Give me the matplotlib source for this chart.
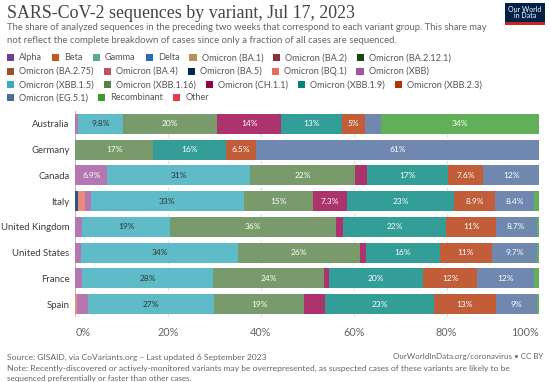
import matplotlib
matplotlib.use('Agg')
import matplotlib.pyplot as plt
from matplotlib.patches import Rectangle
from matplotlib.colors import to_rgb

W, H = 550, 382
DPI = 100

title = "SARS-CoV-2 sequences by variant, Jul 17, 2023"
subtitle = ["The share of analyzed sequences in the preceding two weeks that correspond to each variant group. This share may",
            "not reflect the complete breakdown of cases since only a fraction of all cases are sequenced."]
source = "Source: GISAID, via CoVariants.org – Last updated 6 September 2023"
url = "OurWorldInData.org/coronavirus • CC BY"
note = ["Note: Recently-discovered or actively-monitored variants may be overrepresented, as suspected cases of these variants are likely to be",
        "sequenced preferentially or faster than other cases."]

countries = ["Australia", "Germany", "Canada", "Italy", "United Kingdom", "United States", "France", "Spain"]

variants = ["Alpha", "Beta", "Gamma", "Delta", "Omicron (BA.1)", "Omicron (BA.2)", "Omicron (BA.2.12.1)",
            "Omicron (BA.2.75)", "Omicron (BA.4)", "Omicron (BA.5)", "Omicron (BQ.1)", "Omicron (XBB)",
            "Omicron (XBB.1.5)", "Omicron (XBB.1.16)", "Omicron (CH.1.1)", "Omicron (XBB.1.9)", "Omicron (XBB.2.3)",
            "Omicron (EG.5.1)", "Recombinant", "Other"]
colors = ["#6D3E91", "#C05917", "#58AC8C", "#286BBB", "#BC8E5A", "#883039", "#18470F",
          "#9A5129", "#C15065", "#00295B", "#E56E5A", "#A2559C",
          "#38AABA", "#578145", "#970046", "#00847E", "#B13507",
          "#4C6A9C", "#3A9B2E", "#E63C4A"]

# shares (%) per country, in the order of `countries`
zero = [0, 0, 0, 0, 0, 0, 0, 0]
ba5 = [0, 0, 0, 0.5, 0, 0, 0, 0]
bq1 = [0, 0, 0, 1.6, 0, 0, 0, 0.4]
xbb = [0.5, 0, 6.9, 1.2, 1.4, 1.3, 1.5, 2.4]
xbb_1_5 = [9.8, 0, 30.8, 33.0, 19.1, 33.7, 28.1, 27.1]
xbb_1_16 = [20.2, 16.7, 22.5, 15.0, 35.7, 26.4, 24.1, 19.4]
ch_1_1 = [13.9, 0, 2.7, 7.3, 1.5, 1.2, 0.9, 4.6]
xbb_1_9 = [13.0, 15.8, 17.4, 23.0, 22.2, 15.9, 20.4, 23.3]
xbb_2_3 = [5.0, 6.5, 7.6, 8.9, 10.8, 11.4, 11.6, 13.4]
eg_5_1 = [3.4, 61.0, 12.1, 8.4, 8.7, 9.7, 12.3, 9.0]
recombinant = [34.2, 0, 0, 1.1, 0.6, 0.4, 1.1, 0.4]

series = [zero, zero, zero, zero, zero, zero, zero,
          zero, zero, ba5, bq1, xbb,
          xbb_1_5, xbb_1_16, ch_1_1, xbb_1_9, xbb_2_3,
          eg_5_1, recombinant, zero]

xticks = [0, 20, 40, 60, 80, 100]
xticklabels = ["0%", "20%", "40%", "60%", "80%", "100%"]

SANS = "Lato"
SERIF = "Liberation Serif"

fig = plt.figure(figsize=(W / DPI, H / DPI), dpi=DPI)
fig.patch.set_facecolor("white")
renderer = fig.canvas.get_renderer()


def fx(x):
    return x / W


def fy(y):
    return 1 - y / H


def text_px(x, y, s, size, color, ha="left", va="baseline", family=SANS, fit=None, **kw):
    t = fig.text(fx(x), fy(y), s, fontsize=size, color=color, ha=ha, va=va, family=family, **kw)
    if fit is not None:
        w = t.get_window_extent(renderer).width
        t.set_fontsize(size * fit / w)
    return t


def blend(c, a=0.8):
    r, g, b = to_rgb(c)
    return (1 - a + a * r, 1 - a + a * g, 1 - a + a * b)


# title / subtitle
text_px(7, 18.5, title, 13, "#444444", family=SERIF, fit=347)
text_px(7, 30.5, subtitle[0], 6.3, "#666666", fit=485)
text_px(7, 42.8, subtitle[1], 6.3, "#666666", fit=394)

# logo
fig.patches.append(Rectangle((fx(505), fy(24.5)), 40 / W, 21.5 / H, transform=fig.transFigure,
                             facecolor="#002147", edgecolor="none"))
fig.patches.append(Rectangle((fx(505), fy(24.5)), 40 / W, 2.2 / H, transform=fig.transFigure,
                             facecolor="#CE261E", edgecolor="none"))
fig.text(fx(525), fy(12.5), "Our World\nin Data", fontsize=5.0, color="white", ha="center", va="center",
         family=SANS, linespacing=1.0)

# legend (flow layout)
probe = fig.text(0, 0, "Omicron (BA.2.12.1)", fontsize=6.6, family=SANS)
leg_fs = 6.6 * 82 / probe.get_window_extent(renderer).width
probe.remove()
x0, xmax = 7, 505
rows_y = [57.8, 71.4, 84.8, 97.8]
sq = 7.2
x = x0
row = 0
for name, c in zip(variants, colors):
    t = fig.text(0, 0, name, fontsize=leg_fs, color="#555555", family=SANS, va="center", ha="left")
    tw = t.get_window_extent(renderer).width
    item_w = sq + 5 + tw
    if x + item_w > xmax:
        row += 1
        x = x0
    y = rows_y[row]
    fig.patches.append(Rectangle((fx(x), fy(y + sq / 2)), sq / W, sq / H, transform=fig.transFigure,
                                 facecolor=c, edgecolor="none"))
    t.set_position((fx(x + sq + 5), fy(y)))
    x += item_w + 10

# bars
ax = fig.add_axes([fx(75.3), fy(317), 464 / W, 206 / H])
ax.set_xlim(0, 100)
ax.set_ylim(len(countries) - 0.5, -0.5)
for v in [20, 40, 60, 80, 100]:
    ax.axvline(v, color="#dddddd", lw=0.8, ls=(0, (3, 3)), zorder=0)
ax.axvline(0, color="#bbbbbb", lw=0.9, zorder=0)

ypos = list(range(len(countries)))
left = [0.0] * len(countries)
for name, c, vals in zip(variants, colors, series):
    fc = blend(c)
    ax.barh(ypos, vals, left=left, height=0.78, color=fc, edgecolor="none", zorder=2)
    for i, v in enumerate(vals):
        if v >= 4.9:
            lab = "{:.2g}%".format(v)
            tc = "#333333" if name == "Omicron (XBB.1.5)" else "white"
            ax.text(left[i] + v / 2, i, lab, ha="center", va="center", fontsize=6.0, color=tc,
                    family=SANS, zorder=3)
    left = [l + v for l, v in zip(left, vals)]

ax.set_yticks(ypos)
ax.set_yticklabels(countries, fontsize=6.9, color="#3d3d3d", family=SANS)
ax.set_xticks(xticks)
ax.set_xticklabels(xticklabels, fontsize=7.8, color="#666666", family=SANS)
ax.tick_params(axis="both", length=0)
ax.tick_params(axis="y", pad=4)
ax.tick_params(axis="x", pad=7)
xl = ax.get_xticklabels()
xl[0].set_horizontalalignment("left")
xl[-1].set_horizontalalignment("right")
for s in ax.spines.values():
    s.set_visible(False)

# footer
text_px(7, 359.5, source, 6.3, "#666666", fit=259)
text_px(543, 359.5, url, 6.3, "#666666", ha="right", fit=150)
text_px(7, 370.5, note[0], 6.3, "#666666", fit=502)
text_px(7, 381, note[1], 6.3, "#666666", fit=185)

fig.savefig("out.png", dpi=DPI, facecolor="white")
